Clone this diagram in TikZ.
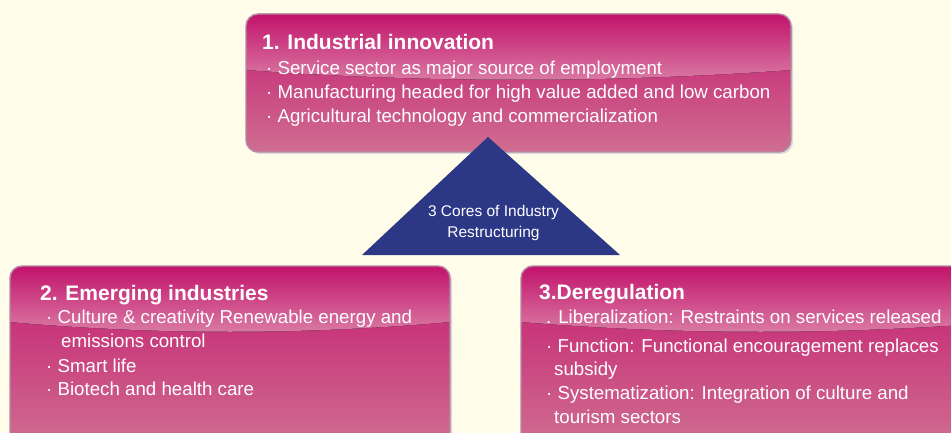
\documentclass[tikz,border=0pt]{standalone}
\usepackage{fontspec}
\setmainfont{Liberation Sans}
\usetikzlibrary{calc,shadows}

\definecolor{paper}{HTML}{FFFCE9}
\definecolor{magtop}{HTML}{C2136B}
\definecolor{magglow}{HTML}{DA7EA6}
\definecolor{magmid}{HTML}{C41A70}
\definecolor{magbot}{HTML}{CF6E90}
\definecolor{panelrim}{HTML}{B48AA4}
\definecolor{corenavy}{HTML}{2C3886}

\begin{document}
\begin{tikzpicture}[x=1pt, y=-1pt,
  panel/.style={rounded corners=12pt, draw=panelrim, line width=1.4pt, inner sep=0pt,
    top color=magmid, bottom color=magbot,
    drop shadow={shadow xshift=2pt, shadow yshift=-2pt, fill=black!14, opacity=1},
    path picture={
      \coordinate (gw) at (path picture bounding box.north west);
      \coordinate (ge) at (path picture bounding box.north east);
      \fill[sharp corners, top color=magtop, bottom color=magglow]
        (gw) -- (ge) -- ($(ge)+(0,56)$)
        .. controls ($(ge)!0.33!(gw)+(0,69)$) and ($(ge)!0.67!(gw)+(0,69)$) .. ($(gw)+(0,56)$) -- cycle;
    }},
  head/.style={anchor=base west, inner sep=0pt, text=white, font=\bfseries\fontsize{21}{24}\selectfont},
  item/.style={anchor=base west, inner sep=0pt, text=white, font=\fontsize{18.7}{22}\selectfont}]
\useasboundingbox[fill=paper] (0,0) rectangle (951,433);

% three panels
\node[panel, minimum width=545pt, minimum height=138pt] (innov) at (518.5,83) {};
\node[panel, minimum width=440pt, minimum height=180pt] (emerg) at (230,356) {};
\node[panel, minimum width=479pt, minimum height=180pt] (dereg) at (760.5,356) {};

% core triangle
\coordinate (apex) at (488,137);
\coordinate (baseL) at (362,255);
\coordinate (baseR) at (620,255);
\fill[corenavy] (apex) -- (baseR) -- (baseL) -- cycle;
\node[align=center, text=white, inner sep=0pt, font=\fontsize{15.5}{21}\selectfont] (core) at (493.5,223)
  {3 Cores of Industry\\Restructuring};

% panel 1
\node[head] (innovT) at (262,50) {1. Industrial innovation};
\node[item] (innovA) at (266,75) {· Service sector as major source of employment};
\node[item] (innovB) at (266,99) {· Manufacturing headed for high value added and low carbon};
\node[item] (innovC) at (266,123) {· Agricultural technology and commercialization};

% panel 2
\node[head] (emergT) at (40,300) {2. Emerging industries};
\node[item] (emergA) at (46,323) {· Culture \& creativity Renewable energy and};
\node[item] (emergA2) at (61,347) {emissions control};
\node[item] (emergB) at (46,372) {· Smart life};
\node[item] (emergC) at (46,395) {· Biotech and health care};

% panel 3
\node[head] (deregT) at (539,299) {3.Deregulation};
\node[item] (deregA) at (546,323) {. Liberalization: Restraints on services released};
\node[item] (deregB) at (546,352) {· Function: Functional encouragement replaces};
\node[item] (deregB2) at (554,375) {subsidy};
\node[item] (deregC) at (546,399) {· Systematization: Integration of culture and};
\node[item] (deregC2) at (554,423) {tourism sectors};
\end{tikzpicture}
\end{document}
